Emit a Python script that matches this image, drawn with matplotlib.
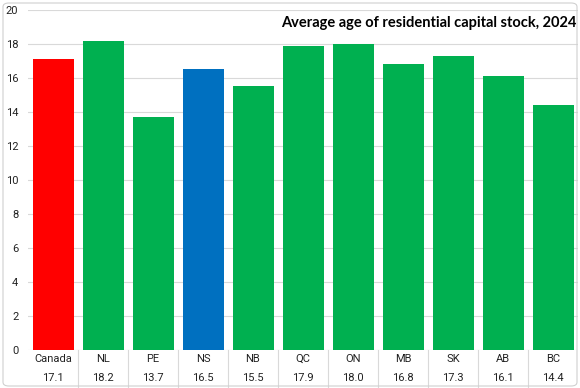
import matplotlib.pyplot as plt
from matplotlib.patches import FancyBboxPatch
import numpy as np

regions = ["Canada", "NL", "PE", "NS", "NB", "QC", "ON", "MB", "SK", "AB", "BC"]
avg_age = [17.1, 18.2, 13.7, 16.5, 15.5, 17.9, 18.0, 16.8, 17.3, 16.1, 14.4]
colors = ["#FF0000", "#00B050", "#00B050", "#0070C0", "#00B050", "#00B050",
          "#00B050", "#00B050", "#00B050", "#00B050", "#00B050"]
title = "Average age of residential capital stock, 2024"

plt.rcParams["font.family"] = ["Roboto", "DejaVu Sans"]

W, H = 580, 388
fig = plt.figure(figsize=(W / 100, H / 100), dpi=100)
ax = fig.add_axes([28 / W, (H - 349.5) / H, 550 / W, 339.5 / H])

x = np.arange(len(regions))
ax.bar(x, avg_age, width=0.82, color=colors, zorder=3)

ax.set_xlim(-0.5, len(regions) - 0.5)
ax.set_ylim(0, 20)
ax.set_yticks(range(0, 21, 2))
ax.tick_params(axis="y", length=0, pad=7, labelsize=8, labelcolor="#222222")
ax.set_xticks([])
ax.grid(axis="y", color="#d9d9d9", linewidth=0.8, zorder=0)
for s in ax.spines.values():
    s.set_visible(False)

ax.text(0.998, 0.962, title, transform=ax.transAxes, ha="right", va="center",
        fontsize=10.5, fontweight="bold", family=["Lato", "DejaVu Sans"])

# data table below the plot
trans = ax.get_xaxis_transform()
for i, (r, v) in enumerate(zip(regions, avg_age)):
    ax.text(i, -0.027, r, transform=trans, ha="center", va="center",
            fontsize=8, color="#222222", clip_on=False)
    ax.text(i, -0.083, f"{v:.1f}", transform=trans, ha="center", va="center",
            fontsize=8, color="#222222", clip_on=False)
for b in np.arange(0.5, len(regions) - 0.5, 1.0):
    ax.plot([b, b], [0, -0.12], transform=trans, color="#d9d9d9",
            linewidth=0.8, clip_on=False)

border = FancyBboxPatch((3 / W, 2 / H), (W - 6) / W, (H - 5) / H,
                        boxstyle="round,pad=0,rounding_size=0.01",
                        transform=fig.transFigure, fill=False,
                        edgecolor="#d0d0d0", linewidth=0.8)
fig.patches.append(border)

fig.savefig("out.png", dpi=100)
